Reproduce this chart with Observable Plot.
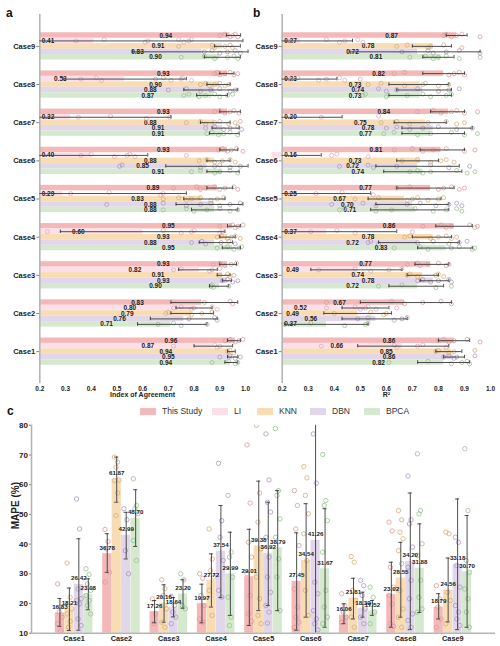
<!DOCTYPE html>
<html><head><meta charset="utf-8">
<script src="https://cdn.jsdelivr.net/npm/d3@7"></script>
<script src="https://cdn.jsdelivr.net/npm/@observablehq/plot@0.6"></script>
<style>
body{margin:0;background:#fff;}
#root{position:relative;width:500px;height:646px;overflow:hidden;font-family:"Liberation Sans",Arial,sans-serif;background:#fff;}
.pl{position:absolute;}
.plab{position:absolute;font-weight:bold;font-size:12px;color:#111;line-height:1;}
.leg{position:absolute;font-size:8.5px;color:#333;line-height:1;}
.sw{position:absolute;width:16px;height:7px;}
</style></head><body><div id="root"></div>
<script>
// ---------- data ----------
const cases = ["Case1","Case2","Case3","Case4","Case5","Case6","Case7","Case8","Case9"];
const methods = ["This Study","LI","KNN","DBN","BPCA"];
const mapeMethods = ["This Study","KNN","DBN","BPCA"];
const xTicks = [0.2,0.3,0.4,0.5,0.6,0.7,0.8,0.9,1.0];
const mapeTicks = [10,20,30,40,50,60,70,80];

// Index of Agreement (rows: Case1..Case9; cols: This Study, LI, KNN, DBN, BPCA)
const iaMean = [
  [0.96,0.87,0.94,0.95,0.94],
  [0.83,0.80,0.79,0.76,0.71],
  [0.93,0.82,0.91,0.93,0.90],
  [0.95,0.60,0.93,0.88,0.95],
  [0.89,0.29,0.83,0.88,0.88],
  [0.93,0.40,0.88,0.85,0.91],
  [0.93,0.32,0.88,0.91,0.91],
  [0.93,0.53,0.90,0.88,0.87],
  [0.94,0.41,0.91,0.83,0.90]
];
const iaLo = [
  [0.93,0.80,0.93,0.93,0.92],
  [0.71,0.73,0.71,0.63,0.58],
  [0.90,0.74,0.89,0.91,0.86],
  [0.93,0.28,0.90,0.82,0.91],
  [0.85,-0.19,0.76,0.73,0.79],
  [0.90,0.18,0.85,0.69,0.85],
  [0.90,-0.07,0.825,0.87,0.86],
  [0.90,0.29,0.85,0.76,0.81],
  [0.926,-0.17,0.88,0.56,0.84]
];
const iaHi = [
  [0.98,0.95,0.96,0.97,0.97],
  [0.97,0.87,0.875,0.89,0.85],
  [0.965,0.89,0.94,0.945,0.935],
  [0.98,0.92,0.96,0.95,0.98],
  [0.95,0.77,0.92,0.99,0.97],
  [0.97,0.62,0.94,1.01,0.975],
  [0.98,0.71,0.94,0.975,0.975],
  [0.955,0.77,0.94,0.97,0.93],
  [0.981,0.99,0.98,1.01,0.98]
];
const iaPts = [
  [[0.92,0.94,0.96,0.975,0.99],[0.72,0.88,0.89,0.90],[0.93,0.94,0.955],[0.90,0.94,0.96,0.98],[0.87,0.935,0.96,0.97]],
  [[0.84,0.94,0.95],[0.72,0.75,0.79,0.80,0.87,0.89],[0.69,0.70,0.79,0.83,0.87],[0.78,0.88,0.89],[0.66,0.72,0.75,0.85]],
  [[0.875,0.90,0.92,0.945,0.965],[0.72,0.75,0.86,0.87,0.90],[0.90,0.93,0.94,0.955],[0.91,0.93,0.95,0.97],[0.865,0.87,0.875,0.935]],
  [[0.90,0.95,0.96,0.97,0.99],[0.23,0.68,0.75,0.79,0.80,0.90,0.91],[0.89,0.905,0.93,0.945,0.96,0.98],[0.79,0.83,0.845,0.905,0.935,0.96],[0.89,0.93,0.955,0.975,0.985]],
  [[0.72,0.81,0.825,0.845,0.88,0.90,0.92,0.955,0.97],[0.32,0.47,0.67,0.68],[0.68,0.74,0.77,0.79,0.825,0.865,0.89,0.915],[0.46,0.68,0.77,0.825,0.865,0.90,0.94,0.98],[0.68,0.77,0.80,0.85,0.90,0.94,0.97]],
  [[0.895,0.91,0.93,0.945,0.965,0.99],[0.36,0.40,0.49,0.54,0.55,0.57,0.77],[0.82,0.85,0.88,0.91,0.94,0.96],[0.51,0.52,0.825,0.88,0.90,0.94,0.98],[0.79,0.825,0.88,0.90,0.94,0.97]],
  [[0.88,0.90,0.92,0.94,0.955,0.975],[0.35,0.475,0.615,0.705],[0.77,0.825,0.845,0.88,0.90,0.935,0.96,0.98],[0.845,0.88,0.915,0.94,0.97,0.985],[0.85,0.87,0.895,0.915,0.94,0.97]],
  [[0.88,0.89,0.90,0.92,0.94,0.955,0.97],[0.36,0.42,0.44,0.65,0.68,0.71,0.75,0.755,0.79],[0.825,0.845,0.86,0.88,0.90,0.92,0.935],[0.70,0.77,0.825,0.865,0.90,0.94,0.96],[0.76,0.78,0.82,0.845,0.88,0.90,0.93,0.95]],
  [[0.90,0.92,0.94,0.95,0.96,0.97],[0.34,0.45,0.61,0.62,0.74,0.76,0.78,0.79],[0.74,0.87,0.88,0.92,0.94,0.95],[0.84,0.87,0.90,0.93,0.96,0.98],[0.75,0.84,0.88,0.93,0.955,0.97]]
];

// R² (rows: Case1..Case9)
const r2Mean = [
  [0.86,0.66,0.85,0.86,0.82],
  [0.67,0.52,0.49,0.56,0.37],
  [0.77,0.49,0.74,0.78,0.72],
  [0.86,0.37,0.78,0.72,0.83],
  [0.77,0.25,0.67,0.70,0.71],
  [0.81,0.16,0.73,0.72,0.74],
  [0.84,0.20,0.75,0.78,0.77],
  [0.82,0.23,0.73,0.74,0.73],
  [0.87,0.27,0.78,0.72,0.81]
];
const r2Lo = [
  [0.80,0.49,0.79,0.82,0.72],
  [0.50,0.43,0.36,0.43,0.21],
  [0.71,0.31,0.68,0.73,0.61],
  [0.79,0.10,0.70,0.57,0.72],
  [0.64,-0.04,0.53,0.56,0.54],
  [0.73,-0.03,0.64,0.56,0.59],
  [0.77,-0.03,0.63,0.66,0.66],
  [0.74,0.05,0.61,0.64,0.61],
  [0.83,0.07,0.70,0.46,0.74]
];
const r2Hi = [
  [0.92,0.84,0.89,0.90,0.92],
  [0.85,0.61,0.62,0.68,0.53],
  [0.84,0.66,0.80,0.84,0.82],
  [0.93,0.64,0.85,0.88,0.93],
  [0.86,0.54,0.81,0.84,0.84],
  [0.90,0.35,0.80,0.88,0.89],
  [0.90,0.43,0.83,0.93,0.90],
  [0.90,0.41,0.84,0.85,0.85],
  [0.91,0.47,0.85,0.96,0.86]
];
const r2Pts = [
  [[0.80,0.82,0.84,0.86,0.91,0.96],[0.35,0.63,0.64,0.72,0.74,0.83],[0.79,0.80,0.84,0.86,0.94],[0.82,0.84,0.86,0.87,0.94],[0.61,0.76,0.85,0.89,0.91,0.92]],
  [[0.37,0.62,0.67,0.74,0.81,0.85],[0.37,0.48,0.50,0.52,0.53,0.56,0.64],[0.40,0.54,0.59,0.60],[0.49,0.53,0.63,0.66,0.68],[0.21,0.31,0.44,0.52,0.53]],
  [[0.68,0.72,0.73,0.76,0.80,0.83,0.84],[0.34,0.48,0.54,0.61,0.66],[0.68,0.69,0.72,0.79,0.80,0.82],[0.72,0.74,0.77,0.80,0.84,0.85],[0.57,0.66,0.79,0.85]],
  [[0.74,0.81,0.83,0.85,0.92,0.94,0.95],[0.31,0.41,0.48,0.70],[0.67,0.69,0.77,0.80,0.83,0.85,0.87],[0.53,0.54,0.57,0.72,0.78,0.84,0.88,0.91],[0.63,0.73,0.76,0.85,0.88,0.93,0.94]],
  [[0.64,0.69,0.80,0.82,0.85,0.88,0.90],[0.33,0.43,0.55],[0.48,0.57,0.68,0.70,0.72,0.76,0.80,0.82],[0.39,0.51,0.56,0.68,0.73,0.79,0.84,0.87,0.89],[0.42,0.44,0.56,0.62,0.71,0.78,0.83,0.87,0.89]],
  [[0.63,0.70,0.74,0.78,0.83,0.90,0.94],[0.39,0.41,0.53],[0.66,0.72,0.77,0.81,0.83,0.86],[0.42,0.53,0.55,0.64,0.77,0.84,0.92],[0.69,0.72,0.74,0.77,0.87,0.91,0.94]],
  [[0.72,0.78,0.81,0.85,0.87,0.90,0.95],[0.35,0.57],[0.58,0.64,0.69,0.76,0.83,0.87,0.90],[0.60,0.64,0.69,0.74,0.80,0.87,0.93],[0.59,0.63,0.72,0.77,0.85,0.90,0.95]],
  [[0.63,0.67,0.84,0.86,0.88,0.90],[0.23,0.26,0.34,0.37,0.42,0.44,0.50],[0.53,0.58,0.67,0.74,0.75,0.80,0.84],[0.49,0.57,0.60,0.64,0.72,0.80,0.84,0.88],[0.51,0.52,0.60,0.68,0.74,0.77,0.83,0.85]],
  [[0.82,0.83,0.85,0.87,0.89,0.96],[0.23,0.37,0.42,0.44,0.49,0.51],[0.64,0.68,0.76,0.77,0.82,0.89],[0.66,0.76,0.78,0.83,0.88,0.96],[0.69,0.75,0.78,0.80,0.83,0.88,0.96]]
];

// MAPE (%) (rows: Case1..Case9; cols: This Study, KNN, DBN, BPCA)
const mapeMean = [
  [16.83,18.21,26.42,23.08],
  [36.78,61.87,42.99,48.70],
  [17.26,20.16,18.64,23.20],
  [19.97,27.72,37.54,29.99],
  [29.01,39.38,36.92,38.79],
  [27.45,34.54,41.26,31.67],
  [16.06,21.81,18.30,17.52],
  [23.02,28.55,34.20,31.88],
  [18.79,24.56,33.18,30.70]
];
const mapeLo = [
  [12.3,10.9,11.0,17.9],
  [30.5,54.1,35.0,39.2],
  [13.5,13.7,15.5,18.4],
  [13.5,18.8,22.0,16.0],
  [12.6,17.6,19.3,17.6],
  [11.0,15.4,1.3,12.0],
  [13.2,14.8,15.4,16.0],
  [12.0,15.4,11.2,17.0],
  [14.8,13.8,11.2,12.0]
];
const mapeHi = [
  [21.7,25.2,41.8,28.3],
  [43.5,69.3,50.7,58.3],
  [21.0,26.3,22.0,28.0],
  [26.5,36.7,53.0,44.0],
  [45.0,61.2,54.1,58.0],
  [43.8,53.6,81.3,51.9],
  [19.9,28.5,23.8,21.0],
  [33.9,40.6,57.2,46.8],
  [23.3,35.3,55.2,49.6]
];
const mapePts = [
  [[26.6,18.8,17.1,15.4,13.2,10.7],[33.6,22.1,19.7,18.2,16.5,14.0,12.0],[55.2,45.1,24.9,21.6,21.0,19.9,14.8,12.6],[31.7,29.8,26.6,24.4,22.7,21.0,19.3,16.5]],
  [[44.9,40.9,38.4,30.5,27.2],[69.3,67.6,65.9,61.6,61.4,57.2,49.6],[51.9,48.2,37.8,30.0],[62.0,53.0,51.9,50.2,41.2,34.5]],
  [[21.5,16.5,13.2],[28.0,25.0,22.7,18.2,13.7,12.0],[22.4,19.3,17.1,15.4,13.2],[30.0,28.0,19.3,18.2]],
  [[30.0,28.5,22.7,19.3,14.8,13.7],[45.1,35.0,31.1,28.9,24.4,16.0],[67.2,47.9,42.3,34.5,24.4,22.1],[56.4,37.3,35.6,28.9,22.1,15.4,12.6]],
  [[73.4,53.8,40.6,35.6,30.0,22.7,16.5,14.0],[80.0,57.2,47.4,38.4,28.9,21.6,16.0,13.2],[77.1,61.6,54.1,50.8,42.3,35.6,28.9,23.8,19.3,17.1,13.4],[78.9,58.0,56.4,48.5,42.3,35.0,28.9,17.6]],
  [[58.0,53.0,45.1,39.5,24.9,18.8,15.4,13.7,12.0],[66.1,62.3,56.4,50.2,43.5,34.5,24.4,16.0],[77.1,60.5,27.2,23.3,17.6,14.8,13.2,11.1],[70.2,54.7,53.0,47.9,37.3,24.4,18.8,15.4,13.2]],
  [[23.3,19.3,17.1,15.4,13.7],[35.8,33.9,24.4,21.0,15.4,12.0],[27.8,26.0,22.7,18.2,15.4,13.2],[25.5,22.1,19.7,17.1,13.2]],
  [[47.4,44.4,32.2,25.5,22.7,19.9,13.2,12.3],[51.3,48.2,44.0,41.8,37.8,33.4,24.4,18.2,15.4,12.0],[62.9,48.2,46.8,39.0,32.2,27.8,21.6,16.5,14.3,12.0],[70.4,51.3,50.2,40.1,36.2,27.8,22.1,18.2,17.1]],
  [[26.0,21.6,18.8,14.8,12.0],[44.0,43.5,23.8,21.0,13.2],[42.3,40.6,32.8,25.5,19.3,17.1,14.8,12.6],[72.1,51.3,34.5,30.5,24.9,21.6,17.1,12.0]]
];

// ---------- styles ----------
const barColor = {"This Study":"#f5b8b8","LI":"#fbe0ea","KNN":"#f8dcb4","DBN":"#e2d6eb","BPCA":"#d5e9cf"};
const dotColor = {"This Study":"#d99a9a","LI":"#d9aabb","KNN":"#d4ae78","DBN":"#a898bc","BPCA":"#98bf90"};
const FONT = "'Liberation Sans', Arial, sans-serif";
const root = document.getElementById("root");

function place(el, left, top) {
  el.classList.add("pl");
  el.style.left = left + "px";
  el.style.top = top + "px";
  root.appendChild(el);
}

function hPanel(mean, lo, hi, pts, title, ml, mr) {
  const keys = [];
  cases.slice().reverse().forEach((c, i) => {
    if (i > 0) { keys.push("gapA" + c); keys.push("gapB" + c); }
    methods.forEach(m => keys.push(c + "|" + m));
  });
  const rows = [];
  cases.forEach((c, i) => methods.forEach((m, j) =>
    rows.push({key: c + "|" + m, method: m, v: mean[i][j], lo: lo[i][j], hi: hi[i][j]})));
  const dots = [];
  cases.forEach((c, i) => methods.forEach((m, j) => pts[i][j].forEach((p, k) =>
    dots.push({key: c + "|" + m, method: m, v: p, k}))));
  const jit = [0, -1.3, 1.3];
  return Plot.plot({
    width: 250, height: 402, marginLeft: ml, marginRight: mr, marginTop: 14, marginBottom: 19,
    style: {fontFamily: FONT, fontWeight: "bold", fontSize: "6.5px", color: "#222", background: "transparent", overflow: "visible"},
    x: {domain: [0.2, 1.0]},
    y: {domain: keys, paddingInner: 0, paddingOuter: 3.35, round: false, axis: null},
    marks: [
      Plot.barX(rows, {y: "key", x1: 0.2, x2: "v", fill: d => barColor[d.method]}),
      Plot.ruleX([0.2], {stroke: "#b5b5b5", strokeWidth: 1.6}),
      Plot.text(rows, {y: "key", x: d => Math.max(d.v - 0.25, 0.232), text: d => d.v.toFixed(2), fill: "#1a1a1a", fontSize: 6.5}),
      ...jit.map((dy, t) => Plot.dot(dots.filter(d => d.k % 3 === t), {y: "key", x: "v", r: 2, dy, stroke: d => dotColor[d.method], strokeWidth: 0.75, fill: "none"})),
      Plot.ruleY(rows, {y: "key", x1: d => Math.max(d.lo, 0.2), x2: "hi", stroke: "#3a3a3a", strokeWidth: 0.9}),
      Plot.tickX(rows.filter(d => d.lo >= 0.2), {y: "key", x: "lo", stroke: "#3a3a3a", strokeWidth: 0.9, insetTop: 1, insetBottom: 1}),
      Plot.tickX(rows, {y: "key", x: "hi", stroke: "#3a3a3a", strokeWidth: 0.9, insetTop: 1, insetBottom: 1}),
      Plot.axisX({ticks: xTicks, tickSize: 0, tickPadding: 2.5, tickFormat: d => d.toFixed(1), label: null, fontSize: 6.5}),
      Plot.axisY({ticks: cases.map(c => c + "|KNN"), tickFormat: k => k.split("|")[0], tickSize: 3, tickPadding: 1.5, label: null, fontSize: 7.5, stroke: "#888"}),
      Plot.text([title], {text: d => d, frameAnchor: "bottom", dy: 13, fontSize: 7, fill: "#222"})
    ]
  });
}

function cPanel() {
  const keys = [];
  cases.forEach((c, i) => {
    if (i > 0) keys.push("gap" + c);
    mapeMethods.forEach(m => keys.push(c + "|" + m));
  });
  const rows = [];
  cases.forEach((c, i) => mapeMethods.forEach((m, j) =>
    rows.push({key: c + "|" + m, method: m, v: mapeMean[i][j], lo: mapeLo[i][j], hi: mapeHi[i][j]})));
  const dots = [];
  cases.forEach((c, i) => mapeMethods.forEach((m, j) => mapePts[i][j].forEach((p, k) =>
    dots.push({key: c + "|" + m, method: m, v: p, k}))));
  const jx = [-2.3, 0.8, -0.8, 2.3];
  return Plot.plot({
    width: 500, height: 246, marginLeft: 31, marginRight: 5, marginTop: 24.8, marginBottom: 13.3,
    style: {fontFamily: FONT, fontWeight: "bold", fontSize: "8px", color: "#222", background: "transparent", overflow: "visible"},
    x: {domain: keys, paddingInner: 0, paddingOuter: 2.5, round: false, axis: null},
    y: {domain: [10, 80]},
    marks: [
      Plot.barY(rows, {x: "key", y1: 10, y2: "v", fill: d => barColor[d.method], insetLeft: 0.15, insetRight: 0.15}),
      ...jx.map((dx, t) => Plot.dot(dots.filter(d => d.k % 4 === t), {x: "key", y: "v", r: 2.2, dx, stroke: d => dotColor[d.method], strokeWidth: 0.8, fill: "none", clip: true})),
      Plot.ruleX(rows, {x: "key", y1: "lo", y2: "hi", stroke: "#3a3a3a", strokeWidth: 0.9, clip: true}),
      Plot.tickY(rows, {x: "key", y: "lo", stroke: "#3a3a3a", strokeWidth: 0.9, insetLeft: 2.7, insetRight: 2.7, clip: true}),
      Plot.tickY(rows, {x: "key", y: "hi", stroke: "#3a3a3a", strokeWidth: 0.9, insetLeft: 2.7, insetRight: 2.7, clip: true}),
      Plot.text(rows, {x: "key", y: "v", text: d => d.v.toFixed(2), dy: -6, fontSize: 6.2, fill: "#1a1a1a"}),
      Plot.ruleY([10], {stroke: "#b5b5b5", strokeWidth: 1.6}),
      Plot.frame({anchor: "left", stroke: "#b5b5b5", strokeWidth: 1.6}),
      Plot.axisY({ticks: mapeTicks, tickSize: 2, tickPadding: 1.5, label: null, fontSize: 8, stroke: "#888"}),
      Plot.text(cases, {x: d => d + "|KNN", y: 10, text: d => d, dx: 4.7, dy: 5, fontSize: 7.3, fill: "#222"}),
      Plot.text(["MAPE (%)"], {text: d => d, frameAnchor: "left", rotate: -90, dx: -16, fontSize: 10, fill: "#222"})
    ]
  });
}

place(hPanel(iaMean, iaLo, iaHi, iaPts, "Index of Agreement", 39.3, 5), 0, 0);
place(hPanel(r2Mean, r2Lo, r2Hi, r2Pts, "R\u00b2", 31.7, 10), 250, 0);
place(cPanel(), 0, 400);

// panel letters
[["a", 6, 7], ["b", 253, 7], ["c", 7, 405]].forEach(([t, x, y]) => {
  const d = document.createElement("div");
  d.className = "plab"; d.textContent = t;
  d.style.left = x + "px"; d.style.top = y + "px";
  root.appendChild(d);
});

// legend
const legendX = {"This Study": 140, "LI": 212, "KNN": 257, "DBN": 310, "BPCA": 364};
methods.forEach(m => {
  const s = document.createElement("div");
  s.className = "sw"; s.style.background = barColor[m];
  s.style.left = legendX[m] + "px"; s.style.top = "408px";
  root.appendChild(s);
  const t = document.createElement("div");
  t.className = "leg"; t.textContent = m;
  t.style.left = (legendX[m] + 22) + "px"; t.style.top = "407px";
  root.appendChild(t);
});
</script></body></html>
